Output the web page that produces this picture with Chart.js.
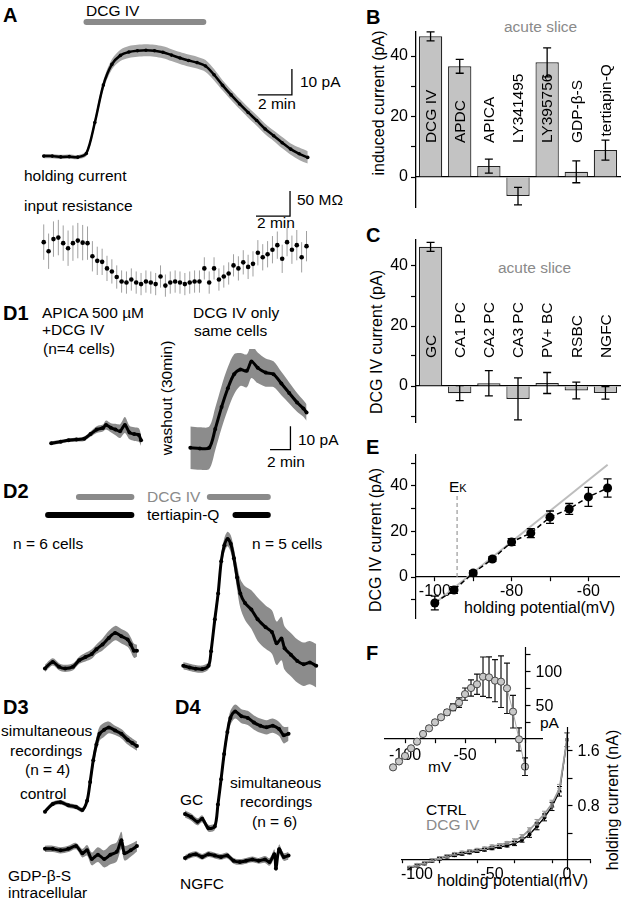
<!DOCTYPE html>
<html>
<head>
<meta charset="utf-8">
<script src="https://cdn.jsdelivr.net/npm/chart.js@4.4.1/dist/chart.umd.min.js"></script>
<style>
body { margin: 0; background: #fff; }
#fig { position: relative; width: 624px; height: 900px; overflow: hidden; background: #fff;
       font-family: 'Liberation Sans', Arial, Helvetica, sans-serif; color: #000; }
#fig canvas { position: absolute; }
.t { position: absolute; font-size: 15.5px; line-height: 18px; height: 18px; margin-top: -9px; white-space: nowrap; }
.p { font-size: 20px; font-weight: bold; }
.g { color: #8a8a8a; }
.ax { font-size: 16px; }
.rv { position: absolute; font-size: 16px; white-space: nowrap; transform: translate(-50%, -50%) rotate(-90deg); }
</style>
</head>
<body>
<div id="fig">
  <div class="t p" style="left:3px;top:15px">A</div>
  <div class="t p" style="left:366px;top:17px">B</div>
  <div class="t p" style="left:366px;top:235px">C</div>
  <div class="t p" style="left:3px;top:313px">D1</div>
  <div class="t p" style="left:3px;top:491px">D2</div>
  <div class="t p" style="left:3px;top:707px">D3</div>
  <div class="t p" style="left:175px;top:707px">D4</div>
  <div class="t p" style="left:366px;top:447px">E</div>
  <div class="t p" style="left:366px;top:653px">F</div>

  <div class="t" style="left:86px;top:11px">DCG IV</div>
  <div class="t" style="left:24px;top:176px">holding current</div>
  <div class="t" style="left:300px;top:82px">10 pA</div>
  <div class="t" style="left:258px;top:104px">2 min</div>
  <div class="t" style="left:24px;top:206px">input resistance</div>
  <div class="t" style="left:297px;top:200px">50 MΩ</div>
  <div class="t" style="left:257px;top:223px">2 min</div>

  <div class="t" style="left:42px;top:313px">APICA 500 µM</div>
  <div class="t" style="left:42px;top:330px">+DCG IV</div>
  <div class="t" style="left:43px;top:349px">(n=4 cells)</div>
  <div class="t" style="left:193px;top:313px">DCG IV only</div>
  <div class="t" style="left:194px;top:331px">same cells</div>
  <div class="rv" style="left:167px;top:398px;font-size:15.5px">washout (30min)</div>
  <div class="t" style="left:298px;top:440px">10 pA</div>
  <div class="t" style="left:267px;top:462px">2 min</div>

  <div class="t g" style="left:147px;top:497px">DCG IV</div>
  <div class="t" style="left:147px;top:515px">tertiapin-Q</div>
  <div class="t" style="left:13px;top:544px">n = 6 cells</div>
  <div class="t" style="left:252px;top:544px">n = 5 cells</div>

  <div class="t" style="left:1px;top:731px">simultaneous</div>
  <div class="t" style="left:10px;top:751px">recordings</div>
  <div class="t" style="left:25px;top:770px">(n = 4)</div>
  <div class="t" style="left:20px;top:794px">control</div>
  <div class="t" style="left:8px;top:876px">GDP-β-S</div>
  <div class="t" style="left:8px;top:893px">intracellular</div>
  <div class="t" style="left:180px;top:800px">GC</div>
  <div class="t" style="left:230px;top:783px">simultaneous</div>
  <div class="t" style="left:240px;top:802px">recordings</div>
  <div class="t" style="left:252px;top:822px">(n = 6)</div>
  <div class="t" style="left:180px;top:884px">NGFC</div>

  <div class="t g" style="left:504px;top:27px">acute slice</div>
  <div class="rv" style="left:379px;top:103px">induced current (pA)</div>
  <div class="t g" style="left:498px;top:268px">acute slice</div>
  <div class="rv" style="left:377px;top:342px">DCG IV current (pA)</div>

  <div class="rv" style="left:376px;top:540px">DCG IV current (pA)</div>
  <div class="t" style="left:449px;top:487px">E<span style="font-size:11px">K</span></div>
  <div class="t ax" style="left:464px;top:608px">holding potential(mV)</div>

  <div class="t" style="left:428px;top:767px">mV</div>
  <div class="t" style="left:540px;top:723px">pA</div>
  <div class="t" style="left:426px;top:811px;line-height:15px">CTRL</div>
  <div class="t g" style="left:426px;top:826px;line-height:15px">DCG IV</div>
  <div class="t ax" style="left:437px;top:881px">holding potential(mV)</div>
  <div class="rv" style="left:613px;top:800px">holding current (nA)</div>
</div>

<script>
// ---------- A: time courses (min / pA / MΩ) ----------
const holdDt = 0.5;
const holdCurrent = [0, 0, -0.3, -0.2, -0.4, 1, 13, 27.5, 35.5, 39,
  40.3, 40.8, 41, 40.8, 40.2, 39.1, 38, 37, 36.2, 34.9,
  31.5, 27.4, 23.7, 20.2, 16.9, 13.8, 10.5, 7.9, 5.2, 2.7, 0.9, -0.5];
const holdSem = [0.8, 0.8, 0.8, 0.8, 0.8, 1, 1.5, 1.8, 2, 2.2,
  2.3, 2.3, 2.3, 2.3, 2.3, 2.3, 2.3, 2.3, 2.3, 2.3,
  2.2, 2, 2, 2, 2, 2, 2, 2, 2.2, 2.2, 2.4, 2.4];
const dcgTimesA = [2.51, 9.37];

const rinDt = 0.2857;
const rinChange = [6, -12, 12, 15, 4, -6, 4, 9, 5, 4,
  -22, -31, -33, -46, -52, -63, -72, -74, -68, -74,
  -77, -72, -74, -77, -62, -80, -74, -72, -74, -77,
  -74, -72, -72, -46, -74, -46, -68, -62, -56, -40,
  -46, -34, -43, -37, -15, -24, -18, -9, 0, -27,
  6, -9, 0, -24, -2];
const rinSem = [35, 35, 35, 35, 35, 35, 35, 35, 35, 33,
  30, 28, 26, 25, 24, 23, 22, 22, 22, 22,
  22, 22, 22, 22, 22, 22, 22, 22, 22, 22,
  22, 22, 22, 22, 22, 22, 22, 22, 22, 22,
  24, 24, 24, 25, 25, 26, 26, 27, 27, 28,
  28, 28, 30, 30, 30];

// ---------- D1 ----------
const d1aTime = [0, 0.95, 1.73, 2.5, 3.27, 3.89, 4.51, 5.12, 5.43, 5.9, 6.36, 6.82, 7.29, 7.75, 8.21, 8.67, 8.89];
const d1aMean = [0, 0.7, 1.3, 1.6, 2, 4, 6, 6.7, 8, 6.8, 6, 5.3, 8, 4.7, 4, 3.6, 1.3];
const d1aSem = [0.8, 0.8, 0.8, 0.9, 1, 1.2, 1.5, 1.5, 2, 2, 2.5, 3, 3.5, 3, 3, 3, 2.5];
const d1bTime = [0, 0.93, 1.85, 2.44, 3.06, 3.68, 4.29, 4.91, 5.53, 5.99, 6.6, 7.38, 8.15, 8.92, 9.69, 10.46, 11.08, 11.39];
const d1bMean = [0, -0.3, 0, 8, 17.3, 25.3, 31.3, 33.3, 32.7, 36.7, 34, 32, 31.3, 27.3, 23.3, 19.3, 16.7, 15];
const d1bSem = [9, 9, 9, 9, 9, 9, 8.5, 7, 7, 7, 6.5, 6, 5.5, 5, 4.5, 4, 3.5, 3.5];

// ---------- D2 ----------
const d2aTime = [0, 0.77, 1.39, 2, 2.78, 3.39, 4.01, 4.63, 5.09, 5.7, 6.32, 6.94, 7.56, 8.18, 8.48, 8.8, 9.1];
const d2aMean = [0, 2.7, 0.7, 0, 0.7, 3.4, 4.7, 6, 8, 10, 12.7, 14.7, 13.4, 12, 10, 7.4, 7.4];
const d2aSem = [1.5, 1.5, 1.5, 1.5, 1.5, 1.5, 1.8, 2, 2, 2.5, 3, 3, 3, 3, 3, 3, 2.5];
const d2bTime = [0, 0.62, 1.2, 1.85, 2.47, 2.71, 3.08, 3.4, 3.7, 4.01, 4.32, 4.63, 4.94, 5.25,
  5.56, 6.02, 6.64, 7.25, 8.03, 8.64, 9.1, 9.57, 9.88, 10.49, 11.11, 11.73, 12.34, 12.96];
const d2bMean = [0.7, 0, -0.5, -0.7, 0.7, 6.7, 20, 30.7, 44, 50.7, 53.3, 51.3, 45.3, 37.3,
  30.7, 26.7, 24, 20, 16.7, 14.7, 10, 12, 8, 5.3, 2.7, 1.3, 2, 0.7];
const d2bSem = [1.5, 1.5, 1.5, 1.5, 1.5, 2, 3, 3, 3, 3, 3, 3.5, 4, 5,
  6, 7, 8, 9, 9, 9, 9, 9, 9, 9, 9, 9, 9, 9];
const dcgTimesD2a = [3.36, 8.55];
const tertTimesD2a = [0.31, 8.55];
const dcgTimesD2b = [2.59, 8.24];
const tertTimesD2b = [5.09, 8.24];

// ---------- D3 / D4 ----------
const d3ctrlTime = [0, 0.77, 1.54, 2.31, 3.08, 3.7, 4.17, 4.47, 4.78, 5.09, 5.4, 5.86, 6.32, 6.94, 7.56, 8.18, 8.64, 9.1];
const d3ctrlMean = [-2, 1.3, 2, 0.7, 0, -1.3, 2.7, 10.7, 20, 26.7, 31.3, 33, 34, 32.7, 31.3, 28.7, 27.3, 26];
const d3ctrlSem = [1, 1, 1, 1, 1, 1, 1.5, 2.5, 3, 3, 3, 3, 2.5, 2, 2, 2, 2, 2];
const d3gdpTime = [0, 0.77, 1.54, 2.31, 3.08, 3.7, 4.17, 4.63, 5.24, 5.86, 6.48, 7.1, 7.56, 7.87, 8.48, 9.1];
const d3gdpMean = [0.7, 0.7, 0, 0.7, 2, -1.3, 0, -4, -2, -4, -2, -0.7, 4.7, -1.3, 0, 2];
const d3gdpSem = [1.5, 1.5, 1.5, 1.5, 1.5, 2, 2.5, 3, 3.5, 4, 4.5, 4.5, 4, 3.5, 3, 2.5];
const d4gcTime = [0, 0.61, 1.23, 1.69, 2.31, 2.93, 3.24, 3.55, 3.85, 4.17, 4.47, 4.94, 5.56, 6.17, 6.79, 7.41, 8.02, 8.64, 9.26, 9.72, 10.19];
const d4gcMean = [2.1, 0.8, -1.2, 0.1, -3.9, -3.2, 6.1, 16.8, 27.5, 36.8, 42.8, 45.5, 43.5, 42.8, 40.8, 39.5, 38.8, 39.5, 38.1, 35.5, 36.1];
const d4gcSem = [1.5, 1.5, 1.5, 1.5, 1.5, 1.5, 2, 2.5, 3, 3, 3, 3, 3, 3, 3, 3, 3, 3, 3, 3.5, 3];
const d4ngfcTime = [0, 0.46, 1.07, 1.69, 2.31, 2.93, 3.55, 4.17, 4.78, 5.4, 6.02, 6.63, 7.25, 7.87, 8.33, 8.8, 8.95, 9.26, 9.72, 10.19];
const d4ngfcMean = [-0.9, 0.4, 1.1, -0.3, 1.1, 0.4, -0.3, 0.4, -2.3, -2.9, -2.3, -1.6, -2.3, -1.6, -2.9, 1.1, -6.3, 3.7, -0.3, 0.4];
const d4ngfcSem = [1.5, 1.5, 1.5, 1.5, 1.5, 1.5, 1.5, 1.5, 1.5, 1.5, 1.5, 1.5, 1.5, 1.8, 2, 2.5, 2.5, 2.5, 2, 2];

// ---------- B / C bar charts (pA) ----------
const bCats = ['DCG IV', 'APDC', 'APICA', 'LY341495', 'LY395756', 'GDP-β-S', 'tertiapin-Q'];
const bMean = [46.5, 36.6, 3.6, -6.3, 37.9, 1.7, 8.9];
const bSem = [1.5, 2.3, 2.3, 2.9, 4.8, 3.6, 3.3];
const cCats = ['GC', 'CA1 PC', 'CA2 PC', 'CA3 PC', 'PV+ BC', 'RSBC', 'NGFC'];
const cMean = [46.4, -2.4, 0.9, -4.3, 1.0, -1.5, -2.3];
const cSem = [1.5, 2.5, 4.2, 7.0, 3.5, 2.8, 2.1];

// ---------- E: I-V of DCG IV current ----------
const eVolt = [-100, -95, -90, -85, -80, -75, -70, -65, -60, -55];
const eCurrent = [-11.4, -5.7, 1.8, 7.9, 15.4, 19.3, 26.3, 29.9, 35.2, 39.1];
const eSem = [3, 1.5, 1, 1, 1.5, 2, 2.7, 2.4, 4.2, 4];
const eFitVolt = [-100, -55];
const eFitCurrent = [-11.5, 49.3];
const eK = -94.2;

// ---------- F: holding current vs potential ----------
const fVolt = [-105, -100, -95, -90, -85, -80, -75, -70, -65, -60, -55, -50, -45, -40, -35, -30, -25, -20, -15, -10, -5, 0];
const fCtrl = [-0.12, -0.08, -0.05, -0.01, 0.02, 0.05, 0.07, 0.09, 0.11, 0.13, 0.15, 0.17, 0.19, 0.21, 0.24, 0.29, 0.37, 0.49, 0.62, 0.78, 1.0, 1.75];
const fCtrlSem = [0.02, 0.02, 0.02, 0.02, 0.02, 0.02, 0.02, 0.02, 0.02, 0.02, 0.02, 0.02, 0.02, 0.02, 0.03, 0.03, 0.04, 0.05, 0.05, 0.06, 0.07, 0.1];
const fDcg = [-0.11, -0.07, -0.04, 0.0, 0.03, 0.06, 0.09, 0.11, 0.13, 0.15, 0.17, 0.2, 0.22, 0.25, 0.28, 0.34, 0.44, 0.55, 0.67, 0.82, 1.04, 1.75];
const fDcgSem = [0.02, 0.02, 0.02, 0.02, 0.02, 0.02, 0.02, 0.02, 0.02, 0.02, 0.02, 0.02, 0.02, 0.02, 0.03, 0.03, 0.03, 0.04, 0.04, 0.05, 0.06, 0.1];
const fTickLabels = [-100, -50, 0];
const insetVolt = [-110, -105, -100, -95, -90, -85, -80, -75, -70, -65, -60, -55, -50, -45, -40, -35, -30, -25, -20, -15, -10, -5, 0];
const insetCurrent = [-41.7, -33, -25, -13.7, -3.9, 7.4, 15.7, 24.5, 31.9, 39.2, 46.6, 53.4, 66, 75, 80.5, 91.6, 90.7, 85.8, 84.3, 74.5, 40.2, -0.5, -40.7];
const insetSem = [3, 3, 3, 3, 3, 3, 3, 3, 3, 4, 5, 7, 9, 12, 15, 29, 30, 31, 38, 37, 24, 17, 13];

// ================= drawing =================
Chart.defaults.font.family = "'Liberation Sans', Arial, Helvetica, sans-serif";
Chart.defaults.font.size = 16;
Chart.defaults.color = '#000';
Chart.defaults.animation = false;
Chart.defaults.events = [];
Chart.defaults.plugins.legend.display = false;
Chart.defaults.plugins.tooltip.enabled = false;

const FONT = "16px 'Liberation Sans', Arial, sans-serif";
const fig = document.getElementById('fig');

function addCanvas(rect) {
    let c = document.createElement('canvas');
    c.width = rect[2];
    c.height = rect[3];
    c.style.left = rect[0] + 'px';
    c.style.top = rect[1] + 'px';
    c.style.width = rect[2] + 'px';
    c.style.height = rect[3] + 'px';
    fig.appendChild(c);
    return c;
}

// x scales take no room, so the chart area is set by the padding
function flat(s) {
    s.height = 0;
    s.paddingLeft = s.paddingRight = s.paddingTop = s.paddingBottom = 0;
}
// a left y scale takes exactly w px (its labels are clipped to its box)
function yBox(w) {
    return s => {
        s.width = w;
        s.paddingLeft = s.paddingRight = s.paddingTop = s.paddingBottom = 0;
    };
}

function padding(canvas, area) {
    return {
        left: area[0] - canvas[0],
        top: area[1] - canvas[1],
        right: canvas[0] + canvas[2] - area[0] - area[2],
        bottom: canvas[1] + canvas[3] - area[1] - area[3]
    };
}

function drawErrors(chart, behind) {
    let ctx = chart.ctx, ys = chart.scales.y;
    chart.data.datasets.forEach((ds, di) => {
        if (!ds.errors || !!ds.errBehind !== behind) return;
        let meta = chart.getDatasetMeta(di);
        let cap = ds.errCap === undefined ? 4 : ds.errCap;
        ctx.save();
        ctx.strokeStyle = ds.errColor || '#000';
        ctx.lineWidth = ds.errWidth || 1.2;
        meta.data.forEach((el, i) => {
            let v = meta.controller.getParsed(i).y, e = ds.errors[i];
            if (v == null || !e) return;
            let y1 = ys.getPixelForValue(v + e), y2 = ys.getPixelForValue(v - e);
            ctx.beginPath();
            ctx.moveTo(el.x, y1);
            ctx.lineTo(el.x, y2);
            if (cap) {
                ctx.moveTo(el.x - cap, y1); ctx.lineTo(el.x + cap, y1);
                ctx.moveTo(el.x - cap, y2); ctx.lineTo(el.x + cap, y2);
            }
            ctx.stroke();
        });
        ctx.restore();
    });
}

const errorBars = {
    id: 'errorBars',
    beforeDatasetsDraw(chart) { drawErrors(chart, true); },
    afterDatasetsDraw(chart) { drawErrors(chart, false); }
};

// rotated category names inside / above the bars
const barLabels = {
    id: 'barLabels',
    afterDatasetsDraw(chart, args, opts) {
        if (opts.base === undefined) return;
        let ctx = chart.ctx, ys = chart.scales.y, ds = chart.data.datasets[0];
        let meta = chart.getDatasetMeta(0);
        ctx.save();
        ctx.font = "15.5px 'Liberation Sans', Arial, sans-serif";
        ctx.fillStyle = '#000';
        ctx.textAlign = 'left';
        ctx.textBaseline = 'middle';
        meta.data.forEach((el, i) => {
            let v = ds.data[i], top = v + ds.errors[i];
            let start = (top > opts.base - 1 && v < 20) ? top + 1.2 : opts.base;
            ctx.save();
            ctx.translate(el.x, ys.getPixelForValue(start));
            ctx.rotate(-Math.PI / 2);
            ctx.fillText(chart.data.labels[i], 0, 1);
            ctx.restore();
        });
        ctx.restore();
    }
};

// vertical axis at x = opts.at, ticks and labels on its right side;
// optional x labels under the zero line
const sideAxis = {
    id: 'sideAxis',
    afterDraw(chart, args, opts) {
        if (!opts.values) return;
        let ctx = chart.ctx, xs = chart.scales.x, ys = chart.scales.y, area = chart.chartArea;
        let x = Math.round(xs.getPixelForValue(opts.at)) + 0.5;
        ctx.save();
        ctx.strokeStyle = '#000';
        ctx.lineWidth = 1.2;
        ctx.fillStyle = '#000';
        ctx.font = FONT;
        ctx.textAlign = 'left';
        ctx.textBaseline = 'middle';
        ctx.beginPath();
        ctx.moveTo(x, area.top);
        ctx.lineTo(x, area.bottom);
        ctx.stroke();
        opts.values.forEach(v => {
            let y = Math.round(ys.getPixelForValue(v)) + 0.5;
            ctx.beginPath();
            ctx.moveTo(x, y);
            ctx.lineTo(x + 5, y);
            ctx.stroke();
            if (opts.labelled.includes(v)) ctx.fillText(String(v), x + 10, y + 1);
        });
        if (opts.xLabels) {
            ctx.textAlign = 'center';
            let y0 = ys.getPixelForValue(0) + opts.xOffset;
            opts.xLabels.forEach(v => ctx.fillText(String(v), xs.getPixelForValue(v), y0));
        }
        ctx.restore();
    }
};

// drug application bars
const appBars = {
    id: 'appBars',
    afterDraw(chart, args, opts) {
        if (!opts.bars) return;
        let ctx = chart.ctx, xs = chart.scales.x, top = chart.canvas.offsetTop;
        opts.bars.forEach(b => {
            ctx.save();
            ctx.strokeStyle = b.color;
            ctx.lineWidth = 6;
            ctx.lineCap = 'round';
            ctx.beginPath();
            ctx.moveTo(xs.getPixelForValue(b.span[0]), b.y - top);
            ctx.lineTo(xs.getPixelForValue(b.span[1]), b.y - top);
            ctx.stroke();
            ctx.restore();
        });
    }
};

const scaleBar = {
    id: 'scaleBar',
    afterDraw(chart, args, opts) {
        if (opts.x === undefined) return;
        let ctx = chart.ctx, xs = chart.scales.x, ys = chart.scales.y;
        let x = xs.getPixelForValue(opts.x), y = ys.getPixelForValue(opts.y);
        ctx.save();
        ctx.strokeStyle = '#000';
        ctx.lineWidth = 1.3;
        ctx.beginPath();
        ctx.moveTo(xs.getPixelForValue(opts.x - opts.dx), y);
        ctx.lineTo(x, y);
        ctx.lineTo(x, ys.getPixelForValue(opts.y + opts.dy));
        ctx.stroke();
        ctx.restore();
    }
};

Chart.register(errorBars, barLabels, sideAxis, appBars, scaleBar);

// trace panel: rect = canvas on page, origin = page px of (t=0, 0), k = px per unit
function traceChart(rect, origin, k, traces, plugins) {
    let datasets = [];
    traces.forEach(tr => {
        let pts = f => tr.v.map((v, i) => ({x: tr.t ? tr.t[i] : i * tr.dt, y: f(v, i)}));
        if (tr.band) {
            datasets.push({data: pts((v, i) => v + tr.sem[i]), borderWidth: 0, pointRadius: 0, order: 2,
                fill: '+1', backgroundColor: tr.band, tension: 0.3, clip: false});
            datasets.push({data: pts((v, i) => v - tr.sem[i]), borderWidth: 0, pointRadius: 0, order: 3,
                fill: false, tension: 0.3, clip: false});
        }
        datasets.push({data: pts(v => v), borderColor: '#000', borderWidth: tr.lw, order: 0,
            showLine: tr.lw > 0, pointRadius: tr.r, pointBackgroundColor: '#000', pointBorderWidth: 0,
            tension: 0.3, clip: false,
            errors: tr.bars ? tr.sem : null, errBehind: true, errColor: '#a0a0a0', errCap: 0, errWidth: 1});
    });
    return new Chart(addCanvas(rect), {
        type: 'line',
        data: {datasets: datasets},
        options: {
            responsive: false,
            devicePixelRatio: 1,
            layout: {padding: 0},
            scales: {
                x: {type: 'linear', display: false,
                    min: (rect[0] - origin[0]) / k[0], max: (rect[0] + rect[2] - origin[0]) / k[0]},
                y: {display: false,
                    min: (origin[1] - rect[1] - rect[3]) / k[1], max: (origin[1] - rect[1]) / k[1]}
            },
            plugins: plugins || {}
        }
    });
}

const BAND = '#8c8c8c';
const dScale = [10.8, 2.5];

// A
traceChart([30, 0, 300, 185], [40, 159], [17.5, 2.7],
    [{dt: holdDt, v: holdCurrent, sem: holdSem, band: '#a8a8a8', lw: 2.5, r: 1.8}],
    {appBars: {bars: [{span: dcgTimesA, y: 22, color: '#8a8a8a'}]},
     scaleBar: {x: 14.57, y: 23.7, dx: 2, dy: 10}});
traceChart([30, 185, 300, 125], [40, 245], [17.5, 0.54],
    [{dt: rinDt, v: rinChange, sem: rinSem, lw: 0, r: 2.3, bars: true}],
    {scaleBar: {x: 14.46, y: 57.4, dx: 2, dy: 50}});

// D1
traceChart([35, 380, 125, 90], [48, 445], dScale,
    [{t: d1aTime, v: d1aMean, sem: d1aSem, band: BAND, lw: 3, r: 2}]);
traceChart([175, 345, 145, 135], [187, 450], dScale,
    [{t: d1bTime, v: d1bMean, sem: d1bSem, band: BAND, lw: 3, r: 2}],
    {scaleBar: {x: 9.81, y: -0.8, dx: 2, dy: 10}});

// D2
traceChart([30, 485, 125, 205], [41.7, 671.7], dScale,
    [{t: d2aTime, v: d2aMean, sem: d2aSem, band: BAND, lw: 3, r: 2}],
    {appBars: {bars: [{span: dcgTimesD2a, y: 497, color: '#8a8a8a'}, {span: tertTimesD2a, y: 515, color: '#000'}]}});
traceChart([165, 485, 160, 225], [180, 670], dScale,
    [{t: d2bTime, v: d2bMean, sem: d2bSem, band: BAND, lw: 3, r: 2}],
    {appBars: {bars: [{span: dcgTimesD2b, y: 497, color: '#8a8a8a'}, {span: tertTimesD2b, y: 515, color: '#000'}]}});

// D3, D4
traceChart([30, 700, 125, 125], [41.7, 810], dScale,
    [{t: d3ctrlTime, v: d3ctrlMean, sem: d3ctrlSem, band: BAND, lw: 3, r: 2}]);
traceChart([30, 825, 125, 55], [41.7, 850], dScale,
    [{t: d3gdpTime, v: d3gdpMean, sem: d3gdpSem, band: BAND, lw: 3, r: 2}]);
traceChart([170, 695, 135, 145], [181.7, 822], dScale,
    [{t: d4gcTime, v: d4gcMean, sem: d4gcSem, band: BAND, lw: 3, r: 2}]);
traceChart([170, 840, 135, 35], [181.7, 856], dScale,
    [{t: d4ngfcTime, v: d4ngfcMean, sem: d4ngfcSem, band: BAND, lw: 3, r: 2}]);

// B, C bar charts
function barChart(canvas, area, zeroY, ky, cats, mean, sem, labelBase) {
    let pad = padding(canvas, area);
    let yw = pad.left;
    pad.left = 0;
    return new Chart(addCanvas(canvas), {
        type: 'bar',
        data: {
            labels: cats,
            datasets: [{data: mean, errors: sem, errCap: 4, errWidth: 1.3,
                backgroundColor: '#c3c3c3', borderColor: '#222', borderWidth: 1.2,
                barPercentage: 0.8, categoryPercentage: 1}]
        },
        options: {
            responsive: false,
            devicePixelRatio: 1,
            layout: {padding: pad},
            scales: {
                x: {position: {y: 0}, afterFit: flat, ticks: {display: false},
                    grid: {display: false}, border: {display: true, color: '#000', width: 1.3}},
                y: {min: (zeroY - area[1] - area[3]) / ky, max: (zeroY - area[1]) / ky, afterFit: yBox(yw),
                    ticks: {stepSize: 10, includeBounds: false, padding: 3,
                        callback: v => v % 20 === 0 ? v : ''},
                    grid: {drawOnChartArea: false, tickLength: 5, tickColor: '#000', tickWidth: 1.2},
                    border: {color: '#000', width: 1.3}}
            },
            plugins: {barLabels: {base: labelBase}}
        }
    });
}

barChart([360, 20, 264, 200], [416, 32, 204, 175], 177, 3.025, bCats, bMean, bSem, 11.2);
barChart([360, 230, 264, 200], [416, 240, 204, 182], 386, 3.0, cCats, cMean, cSem, 9.3);

// E
const xy = (xs, ys) => xs.map((x, i) => ({x: x, y: ys[i]}));
{
    let canvas = [360, 440, 264, 200], area = [416, 455, 204, 163];
    let pad = padding(canvas, area);
    let yw = pad.left;
    pad.left = 0;
    new Chart(addCanvas(canvas), {
        type: 'line',
        data: {datasets: [
            {data: xy(eFitVolt, eFitCurrent), borderColor: '#bdbdbd', borderWidth: 2, pointRadius: 0, order: 2},
            {data: xy([eK, eK], [0, 36]), borderColor: '#999', borderWidth: 1.2, borderDash: [4, 3], pointRadius: 0, order: 2},
            {data: xy(eVolt, eCurrent), borderColor: '#000', borderWidth: 1.5, borderDash: [5, 3], order: 0,
                pointRadius: 4.5, pointBackgroundColor: '#000', pointBorderWidth: 0,
                errors: eSem, errCap: 4, errWidth: 1.3, clip: false}
        ]},
        options: {
            responsive: false,
            devicePixelRatio: 1,
            layout: {padding: pad},
            scales: {
                x: {type: 'linear', position: {y: 0}, min: -104.9, max: -51.9, afterFit: flat,
                    ticks: {stepSize: 10, includeBounds: false, padding: 1, maxRotation: 0, autoSkip: false,
                        callback: v => v % 20 === 0 ? v : ''},
                    grid: {drawOnChartArea: false, tickLength: 4, tickColor: '#000', tickWidth: 1.2},
                    border: {color: '#000', width: 1.2}},
                y: {min: -18, max: 53.6, afterFit: yBox(yw),
                    ticks: {stepSize: 10, includeBounds: false, padding: 3,
                        callback: v => v % 20 === 0 ? v : ''},
                    grid: {drawOnChartArea: false, tickLength: 5, tickColor: '#000', tickWidth: 1.2},
                    border: {color: '#000', width: 1.2}}
            }
        }
    });
}

// F main
{
    let canvas = [380, 700, 244, 200], area = [402, 727, 188, 143];
    new Chart(addCanvas(canvas), {
        type: 'line',
        data: {datasets: [
            {data: xy(fVolt, fCtrl), borderColor: '#000', borderWidth: 1.4, pointRadius: 2, order: 1,
                pointBackgroundColor: '#000', pointBorderWidth: 0, errors: fCtrlSem, errCap: 2.5, errWidth: 1, clip: false},
            {data: xy(fVolt, fDcg), borderColor: '#9a9a9a', borderWidth: 1.8, pointRadius: 2, order: 0,
                pointBackgroundColor: '#9a9a9a', pointBorderWidth: 0, errors: fDcgSem, errCap: 2.5, errWidth: 1,
                errColor: '#9a9a9a', clip: false}
        ]},
        options: {
            responsive: false,
            devicePixelRatio: 1,
            layout: {padding: padding(canvas, area)},
            scales: {
                x: {type: 'linear', position: {y: 0}, min: -110, max: 15.33, afterFit: flat,
                    ticks: {display: false, stepSize: 25, includeBounds: false},
                    grid: {drawOnChartArea: false, tickLength: 3, tickColor: '#000', tickWidth: 1.2},
                    border: {color: '#000', width: 1.2}},
                y: {display: false, min: -0.145, max: 1.935}
            },
            plugins: {sideAxis: {at: 0, values: [0.4, 0.8, 1.2, 1.6], labelled: [0.8, 1.6],
                xLabels: fTickLabels, xOffset: 15}}
        }
    });
}

// F inset
{
    let canvas = [360, 635, 264, 150], area = [385, 647, 157, 123];
    new Chart(addCanvas(canvas), {
        type: 'line',
        data: {datasets: [
            {data: xy(insetVolt, insetCurrent), borderColor: '#aaa', borderWidth: 1, pointRadius: 3.6,
                pointBackgroundColor: '#c8c8c8', pointBorderColor: '#444', pointBorderWidth: 1,
                errors: insetSem, errBehind: true, errCap: 3, errWidth: 1.2, errColor: '#111', clip: false}
        ]},
        options: {
            responsive: false,
            devicePixelRatio: 1,
            layout: {padding: padding(canvas, area)},
            scales: {
                x: {type: 'linear', position: {y: 0}, min: -116.7, max: 14.17, afterFit: flat,
                    ticks: {stepSize: 25, includeBounds: false, padding: 3, maxRotation: 0, autoSkip: false,
                        callback: v => (v % 50 === 0 && v !== 0) ? v : ''},
                    grid: {drawOnChartArea: false, tickLength: 4, tickColor: '#000', tickWidth: 1.2},
                    border: {color: '#000', width: 1.2}},
                y: {display: false, min: -45.6, max: 135.3}
            },
            plugins: {sideAxis: {at: 0, values: [25, 50, 75, 100, 125], labelled: [50, 100]}}
        }
    });
}
</script>
</body>
</html>
